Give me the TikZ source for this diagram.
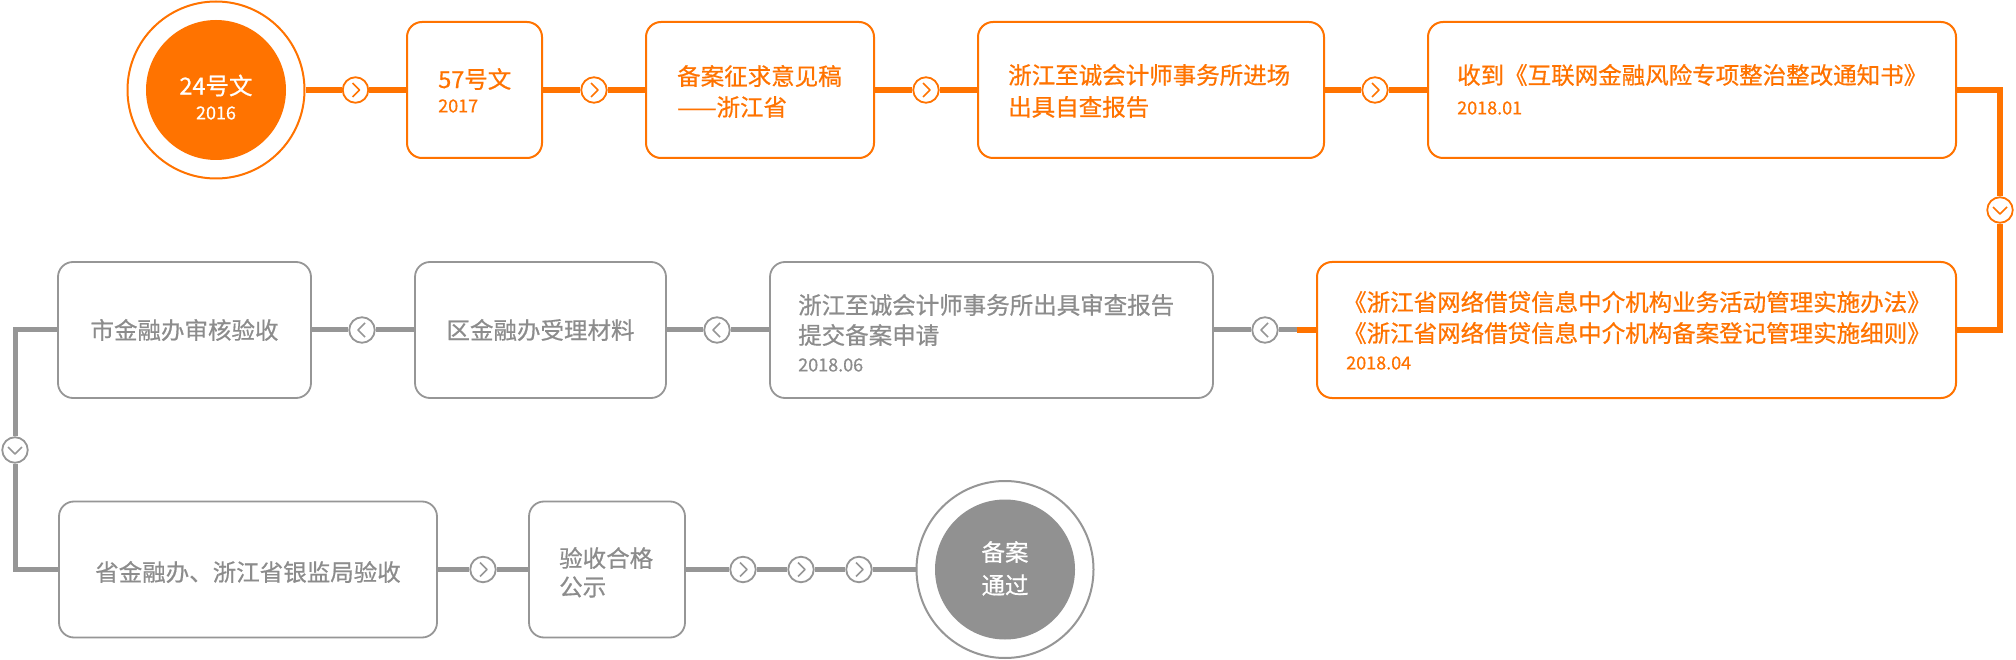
\documentclass[tikz,border=0pt]{standalone}
\usepackage{fontspec}
\newfontfamily\cjk[FakeBold=0.6]{Noto Sans CJK SC}
\definecolor{org}{RGB}{255,115,0}
\definecolor{gry}{RGB}{150,150,150}
\definecolor{gtxt}{RGB}{140,140,140}
\definecolor{gfill}{RGB}{145,145,145}
\begin{document}
\begin{tikzpicture}[x=1pt,y=-1pt,
  obox/.style={draw=org, line width=2pt, rounded corners=15pt, fill=white, inner sep=0pt, rectangle},
  gbox/.style={draw=gry, line width=1.8pt, rounded corners=15pt, fill=white, inner sep=0pt, rectangle},
  oline/.style={draw=org, line width=5.5pt},
  gline/.style={draw=gry, line width=5pt},
  chev/.style={circle, line width=1.8pt, fill=white, minimum size=25.5pt, inner sep=0pt},
  chevR/.style={path picture={\draw[line width=1.5pt, line join=round, #1] ([shift={(-3pt,7pt)}]path picture bounding box.center) -- ++(7pt,-7pt) -- ++(-7pt,-7pt);}},
  chevL/.style={path picture={\draw[line width=1.5pt, line join=round, #1] ([shift={(3pt,7pt)}]path picture bounding box.center) -- ++(-7pt,-7pt) -- ++(7pt,-7pt);}},
  chevD/.style={path picture={\draw[line width=1.5pt, line join=round, #1] ([shift={(-7pt,3pt)}]path picture bounding box.center) -- ++(7pt,-7pt) -- ++(7pt,7pt);}},
  okR/.style={chev, draw=org, chevR=org},
  okD/.style={chev, draw=org, chevD=org},
  gkL/.style={chev, draw=gry, chevL=gry},
  gkR/.style={chev, draw=gry, chevR=gry},
  gkD/.style={chev, draw=gry, chevD=gry},
  mtxt/.style={font=\cjk\fontsize{23.5}{28}\selectfont, inner sep=0pt},
  dtxt/.style={font=\cjk\fontsize{18}{21}\selectfont, inner sep=0pt},
]
\fill[white] (0,0) rectangle (2016,660);
\useasboundingbox (0,0) rectangle (2016,660);

% ---------- row 1 ----------
\node[circle, draw=org, line width=2pt, minimum size=177pt, inner sep=0pt,
  path picture={\fill[org] (path picture bounding box.center) circle[radius=70pt];}] (c1) at (216,90) {};
\node[obox, minimum width=135pt, minimum height=136pt] (b2) at (474.5,90) {};
\node[obox, minimum width=228pt, minimum height=136pt] (b3) at (760,90) {};
\node[obox, minimum width=346pt, minimum height=136pt] (b4) at (1151,90) {};
\node[obox, minimum width=528pt, minimum height=136pt] (b5) at (1692,90) {};

\node[okR] (k1) at (355.5,90) {};
\node[okR] (k2) at (594,90) {};
\node[okR] (k3) at (926,90) {};
\node[okR] (k4) at (1375,90) {};
\node[okD] (k5) at (2000,210) {};

% ---------- row 2 ----------
\node[obox, minimum width=639pt, minimum height=136pt] (b6) at (1636.5,330) {};
\node[gbox, minimum width=443pt, minimum height=136pt] (b7) at (991.5,330) {};
\node[gbox, minimum width=251pt, minimum height=136pt] (b8) at (540.5,330) {};
\node[gbox, minimum width=253pt, minimum height=136pt] (b9) at (184.5,330) {};

\node[gkL] (k6) at (1265,330) {};
\node[gkL] (k7) at (717,330) {};
\node[gkL] (k8) at (362,330) {};
\node[gkD] (k9) at (15,450) {};

% ---------- row 3 ----------
\node[gbox, minimum width=378pt, minimum height=136pt] (b10) at (248,569.5) {};
\node[gbox, minimum width=156pt, minimum height=136pt] (b11) at (607,569.5) {};
\node[circle, draw=gry, line width=2pt, minimum size=177pt, inner sep=0pt,
  path picture={\fill[gfill] (path picture bounding box.center) circle[radius=70pt];}] (c2) at (1005,569.5) {};

\node[gkR] (k10) at (483,569.5) {};
\node[gkR] (k11a) at (743,569.5) {};
\node[gkR] (k11b) at (801,569.5) {};
\node[gkR] (k11c) at (859,569.5) {};

% ---------- connectors ----------
\draw[oline] (c1) -- (k1);
\draw[oline] (k1) -- (b2);
\draw[oline] (b2) -- (k2);
\draw[oline] (k2) -- (b3);
\draw[oline] (b3) -- (k3);
\draw[oline] (k3) -- (b4);
\draw[oline] (b4) -- (k4);
\draw[oline] (k4) -- (b5);
\draw[oline] (b5.east) -| (k5);
\draw[oline] (k5) |- (b6.east);
\coordinate (m6) at (1297,330);
\draw[oline] (b6.west) -- (m6);
\draw[gline] (m6) -- (k6);
\draw[gline] (k6) -- (b7);
\draw[gline] (b7) -- (k7);
\draw[gline] (k7) -- (b8);
\draw[gline] (b8) -- (k8);
\draw[gline] (k8) -- (b9);
\draw[gline] (b9.west) -| (k9);
\draw[gline] (k9) |- (b10.west);
\draw[gline] (b10) -- (k10);
\draw[gline] (k10) -- (b11);
\draw[gline] (b11) -- (k11a);
\draw[gline] (k11a) -- (k11b);
\draw[gline] (k11b) -- (k11c);
\draw[gline] (k11c) -- (c2);

% ---------- texts ----------
\node[mtxt, text=white] (c1a) at (216,85.5) {24号文};
\node[dtxt, text=white] (c1b) at (216,113) {2016};

\node[mtxt, text=org, anchor=west] (b2a) at (438,79) {57号文};
\node[dtxt, text=org, anchor=west] (b2b) at (438,106) {2017};

\node[mtxt, text=org, anchor=west] (b3a) at (677,76) {备案征求意见稿};
\node[mtxt, text=org, anchor=west] (b3b) at (677,107) {——浙江省};

\node[mtxt, text=org, anchor=west] (b4a) at (1008,75) {浙江至诚会计师事务所进场};
\node[mtxt, text=org, anchor=west] (b4b) at (1008,107) {出具自查报告};

\node[mtxt, text=org, anchor=west] (b5a) at (1457,75) {收到《互联网金融风险专项整治整改通知书》};
\node[dtxt, text=org, anchor=west] (b5b) at (1457,108) {2018.01};

\node[mtxt, text=org, anchor=west] (b6a) at (1343,302) {《浙江省网络借贷信息中介机构业务活动管理实施办法》};
\node[mtxt, text=org, anchor=west] (b6b) at (1343,333) {《浙江省网络借贷信息中介机构备案登记管理实施细则》};
\node[dtxt, text=org, anchor=west] (b6c) at (1346,363) {2018.04};

\node[mtxt, text=gtxt, anchor=west] (b7a) at (798,305) {浙江至诚会计师事务所出具审查报告};
\node[mtxt, text=gtxt, anchor=west] (b7b) at (798,335) {提交备案申请};
\node[dtxt, text=gtxt, anchor=west] (b7c) at (798,365) {2018.06};

\node[mtxt, text=gtxt] (b8a) at (540.5,330) {区金融办受理材料};
\node[mtxt, text=gtxt] (b9a) at (184.5,330) {市金融办审核验收};

\node[mtxt, text=gtxt] (b10a) at (248,572) {省金融办、浙江省银监局验收};
\node[mtxt, text=gtxt, anchor=west] (b11a) at (559,558) {验收合格};
\node[mtxt, text=gtxt, anchor=west] (b11b) at (559,587) {公示};

\node[mtxt, text=white] (c2a) at (1005,552) {备案};
\node[mtxt, text=white] (c2b) at (1005,585) {通过};
\end{tikzpicture}
\end{document}
